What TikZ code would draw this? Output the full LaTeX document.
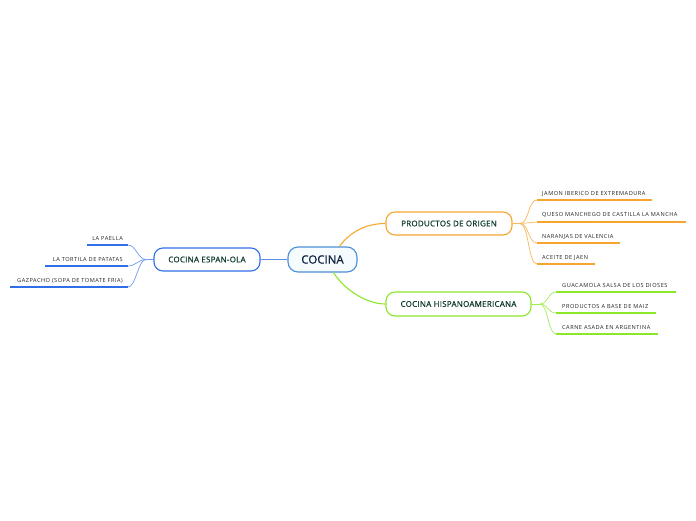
\documentclass[tikz,border=0pt]{standalone}
\usepackage{fontspec}
\setmainfont{Open Sans}
\newfontfamily\leaffont{Open Sans}[LetterSpace=9]
\newfontfamily\mainfont{Open Sans}[LetterSpace=3,FakeBold=0.6]
\newfontfamily\rootfont{Open Sans}[FakeBold=0.8]
\definecolor{cblue}{HTML}{2F6FE8}
\definecolor{corange}{HTML}{F7A531}
\definecolor{cgreen}{HTML}{8CE62A}
\definecolor{ctext}{HTML}{0E3B2E}
\definecolor{croot}{HTML}{4A8FD8}
\definecolor{crootfill}{HTML}{F6FBFF}
\definecolor{cleaf}{HTML}{222222}
\definecolor{croottext}{HTML}{10203F}
\begin{document}
\begin{tikzpicture}[x=1pt,y=-1pt,
  mainbox/.style={draw, rounded corners=9pt, line width=1.1pt, fill=white, text=ctext, font=\mainfont\fontsize{8}{9}\selectfont, inner sep=0pt},
  rootbox/.style={draw=croot, rounded corners=10pt, line width=1.1pt, fill=crootfill, text=croottext, font=\rootfont\fontsize{11.5}{13}\selectfont, inner sep=0pt, minimum width=69pt, minimum height=25pt},
  leaftext/.style={text=cleaf, font=\leaffont\fontsize{5.6}{6}\selectfont, inner sep=0pt},
  bline/.style={draw=cblue, line width=1.6pt},
  oline/.style={draw=corange, line width=1.3pt},
  gline/.style={draw=cgreen, line width=1.6pt},
  bcurve/.style={draw=cblue!70, line width=0.7pt},
  ocurve/.style={draw=corange!80, line width=0.7pt},
  gcurve/.style={draw=cgreen!80, line width=0.7pt}
]
\useasboundingbox (0,0) rectangle (696,520);

% main nodes
\node[rootbox] (root) at (322.5,259.5) {COCINA};
\node[mainbox, draw=cblue, minimum width=106pt, minimum height=23pt] (esp) at (207,259.5) {COCINA ESPAN-OLA};
\node[mainbox, draw=corange, minimum width=126pt, minimum height=23pt] (prod) at (449,223.5) {PRODUCTOS DE ORIGEN};
\node[mainbox, draw=cgreen, minimum width=145pt, minimum height=24pt] (hisp) at (458.5,304) {COCINA HISPANOAMERICANA};

% main connectors
\draw[draw=cblue!80, line width=1.6pt] (root.west) -- (esp.east);
\draw[draw=corange, line width=1.1pt] ([xshift=17pt]root.north) .. controls +(10,-14) and +(-20,0) .. (prod.west);
\draw[draw=cgreen, line width=1.1pt] ([xshift=11pt]root.south) .. controls +(10,16) and +(-20,0) .. (hisp.west);

% orange leaves
\coordinate (ob) at (520,223.5);
\coordinate (o1s) at (537,200); \coordinate (o1e) at (652,200);
\coordinate (o2s) at (537,222); \coordinate (o2e) at (686,222);
\coordinate (o3s) at (537,243); \coordinate (o3e) at (620,243);
\coordinate (o4s) at (537,264); \coordinate (o4e) at (595,264);
\node[leaftext, anchor=base west] (o1) at (542,195) {JAMON IBERICO DE EXTREMADURA};
\node[leaftext, anchor=base west] (o2) at (542,216.5) {QUESO MANCHEGO DE CASTILLA LA MANCHA};
\node[leaftext, anchor=base west] (o3) at (542,238) {NARANJAS DE VALENCIA};
\node[leaftext, anchor=base west] (o4) at (542,259) {ACEITE DE JAEN};
\draw[ocurve] (prod.east) -- (ob);
\foreach \i in {1,2,3,4} {
  \draw[ocurve] (ob) .. controls +(9,0) and +(-9,0) .. (o\i s);
  \draw[oline] (o\i s) -- (o\i e);
}

% green leaves
\coordinate (gb) at (540,304);
\coordinate (g1s) at (556,292); \coordinate (g1e) at (676,292);
\coordinate (g2s) at (556,313); \coordinate (g2e) at (656,313);
\coordinate (g3s) at (556,334); \coordinate (g3e) at (658,334);
\node[leaftext, anchor=base west] (g1) at (562,287) {GUACAMOLA SALSA DE LOS DIOSES};
\node[leaftext, anchor=base west] (g2) at (562,308) {PRODUCTOS A BASE DE MAIZ};
\node[leaftext, anchor=base west] (g3) at (562,329) {CARNE ASADA EN ARGENTINA};
\draw[gcurve] (hisp.east) -- (gb);
\foreach \i in {1,2,3} {
  \draw[gcurve] (gb) .. controls +(8,0) and +(-8,0) .. (g\i s);
  \draw[gline] (g\i s) -- (g\i e);
}

% blue leaves
\coordinate (bb) at (146,259.5);
\coordinate (b1s) at (128,245); \coordinate (b1e) at (87,245);
\coordinate (b2s) at (128,266); \coordinate (b2e) at (45,266);
\coordinate (b3s) at (128,287); \coordinate (b3e) at (10,287);
\node[leaftext, anchor=base east] (b1) at (123,240) {LA PAELLA};
\node[leaftext, anchor=base east] (b2) at (123,261) {LA TORTILA DE PATATAS};
\node[leaftext, anchor=base east] (b3) at (123,282) {GAZPACHO (SOPA DE TOMATE FRIA)};
\draw[bcurve] (esp.west) -- (bb);
\foreach \i in {1,2,3} {
  \draw[bcurve] (bb) .. controls +(-8,0) and +(8,0) .. (b\i s);
  \draw[bline] (b\i s) -- (b\i e);
}
\end{tikzpicture}
\end{document}
